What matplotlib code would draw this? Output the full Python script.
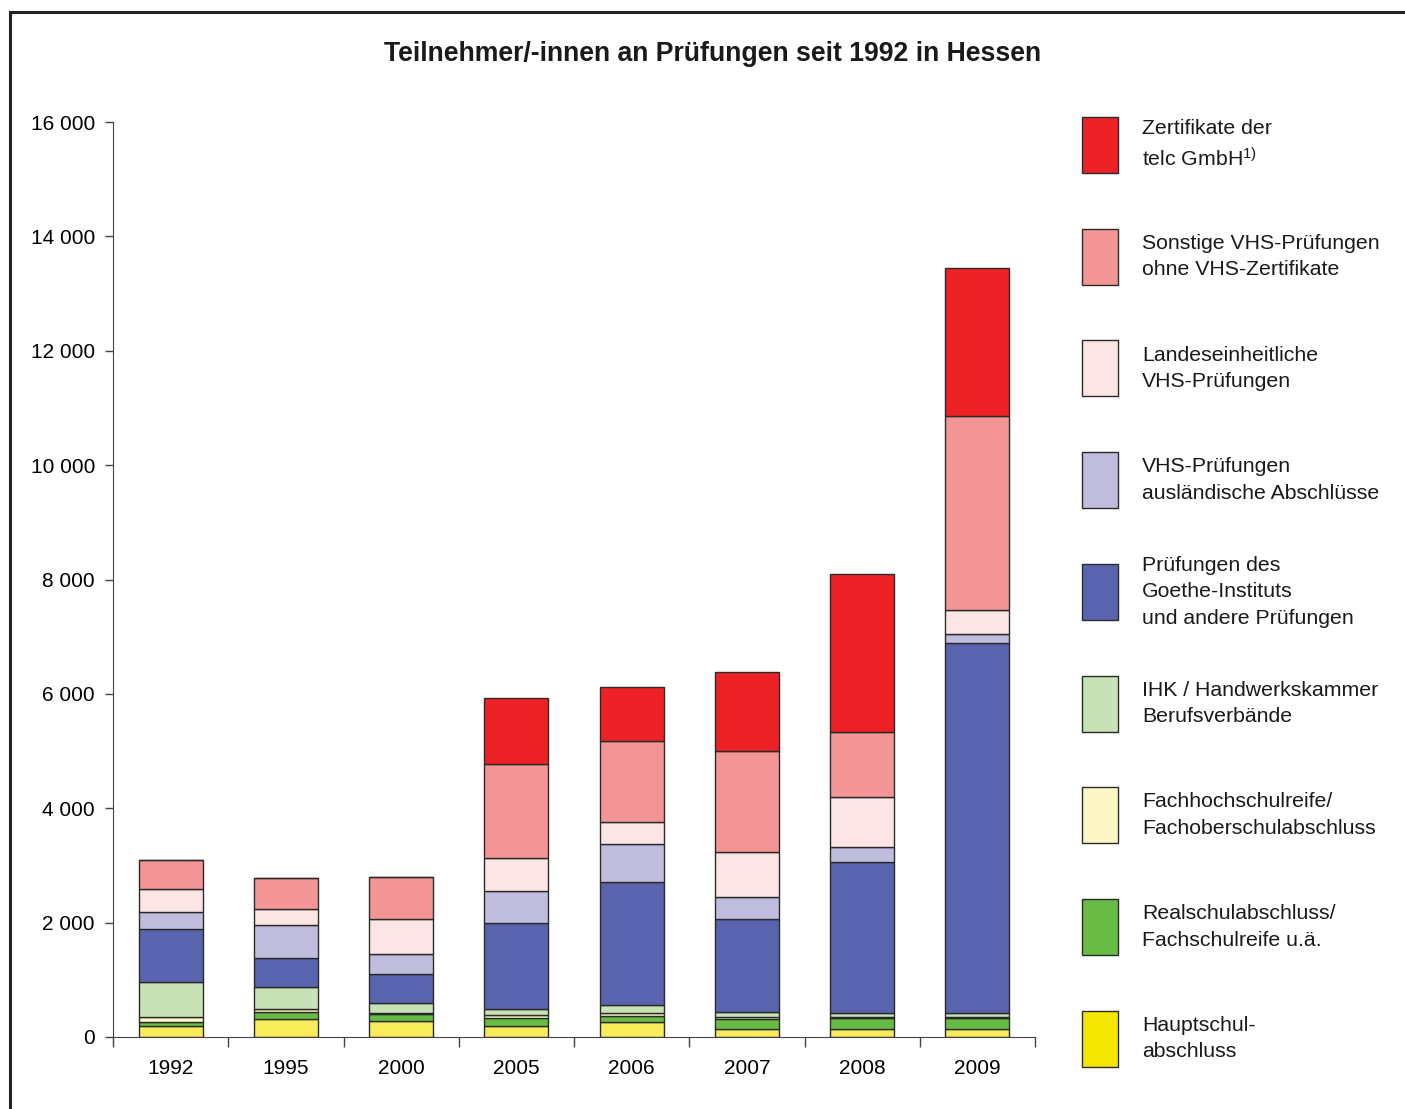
import matplotlib
matplotlib.use("Agg")
import matplotlib.pyplot as plt
import numpy as np
from matplotlib.patches import Rectangle
from matplotlib.ticker import FuncFormatter, FixedLocator

plt.rcParams['font.family'] = ['Liberation Sans', 'DejaVu Sans']
plt.rcParams['mathtext.fontset'] = 'custom'
plt.rcParams['mathtext.rm'] = 'Liberation Sans'
plt.rcParams['mathtext.it'] = 'Liberation Sans'

years = ["1992", "1995", "2000", "2005", "2006", "2007", "2008", "2009"]

# stacked from bottom to top
hauptschul = [185, 310, 275, 195, 262, 135, 140, 140]
realschul = [82, 122, 122, 130, 105, 187, 187, 187]
fachhoch = [76, 52, 30, 52, 47, 22, 17, 17]
ihk = [625, 396, 163, 118, 140, 93, 70, 70]
goethe = [921, 502, 508, 1498, 2157, 1627, 2647, 6477]
vhs_ausl = [297, 577, 355, 559, 665, 384, 262, 158]
landes = [403, 280, 612, 577, 384, 787, 874, 419]
sonstige = [507, 542, 734, 1644, 1417, 1767, 1137, 3394]
telc = [0, 0, 0, 1154, 944, 1381, 2764, 2588]

series = [hauptschul, realschul, fachhoch, ihk, goethe, vhs_ausl, landes, sonstige, telc]
colors = ["#F8EC5A", "#68BC45", "#FBF6C3", "#C6E2B6", "#5A63AE",
          "#C0BCDD", "#FCE5E5", "#F39595", "#EE2226"]
legend_colors = ["#F4E600", "#68BC45", "#FBF6C3", "#C6E2B6", "#5A63AE",
                 "#C0BCDD", "#FCE5E5", "#F39595", "#EE2226"]
labels = ["Hauptschul-\nabschluss",
          "Realschulabschluss/\nFachschulreife u.ä.",
          "Fachhochschulreife/\nFachoberschulabschluss",
          "IHK / Handwerkskammer\nBerufsverbände",
          "Prüfungen des\nGoethe-Instituts\nund andere Prüfungen",
          "VHS-Prüfungen\nausländische Abschlüsse",
          "Landeseinheitliche\nVHS-Prüfungen",
          "Sonstige VHS-Prüfungen\nohne VHS-Zertifikate",
          "Zertifikate der\ntelc GmbH$^{1)}$"]

W, H = 1405, 1109
fig = plt.figure(figsize=(W / 100, H / 100), dpi=100)

# outer frame
fig.add_artist(Rectangle((10 / W, -0.05), 1.1, 1 - 12 / H + 0.05,
                         transform=fig.transFigure, fill=False,
                         edgecolor="#222222", linewidth=2.2))

ax = fig.add_axes([113 / W, 1 - 1037 / H, (1035 - 113) / W, 915 / H])
x = np.arange(len(years))
bottom = np.zeros(len(years))
for vals, c in zip(series, colors):
    vals = np.array(vals, dtype=float)
    ax.bar(x, vals, width=0.555, bottom=bottom, color=c,
           edgecolor="#2a2a2a", linewidth=1.0)
    bottom += vals

ax.set_xlim(-0.5, len(years) - 0.5)
ax.set_ylim(0, 16000)
ax.set_yticks(np.arange(0, 16001, 2000))
ax.yaxis.set_major_formatter(FuncFormatter(lambda v, p: f"{int(v):,}".replace(",", " ")))
ax.set_xticks(x)
ax.set_xticklabels(years)
ax.xaxis.set_minor_locator(FixedLocator(np.arange(-0.5, len(years), 1.0)))
ax.tick_params(axis="x", which="major", length=0, pad=16, labelsize=15)
ax.tick_params(axis="x", which="minor", length=7, width=1, color="#444444")
ax.tick_params(axis="y", length=6, width=1, color="#444444", labelsize=15, pad=7)
for s in ["top", "right"]:
    ax.spines[s].set_visible(False)
ax.spines["left"].set_color("#444444")
ax.spines["bottom"].set_color("#444444")

fig.text(713 / W, 1 - 54 / H, "Teilnehmer/-innen an Prüfungen seit 1992 in Hessen",
         ha="center", va="center", fontsize=19.2, fontweight="bold", color="#1a1a1a")

# legend, top entry first
tops = [117 + i * 111.7 for i in range(9)]
for top, lab, c in zip(tops, labels[::-1], legend_colors[::-1]):
    fig.add_artist(Rectangle((1082 / W, 1 - (top + 56) / H), 36 / W, 56 / H,
                             transform=fig.transFigure, facecolor=c,
                             edgecolor="#2a2a2a", linewidth=1.0))
    fig.text(1142 / W, 1 - (top + 28) / H, lab, ha="left", va="center",
             fontsize=15.3, linespacing=1.5, color="#1a1a1a")

fig.savefig("out.png", dpi=100)
